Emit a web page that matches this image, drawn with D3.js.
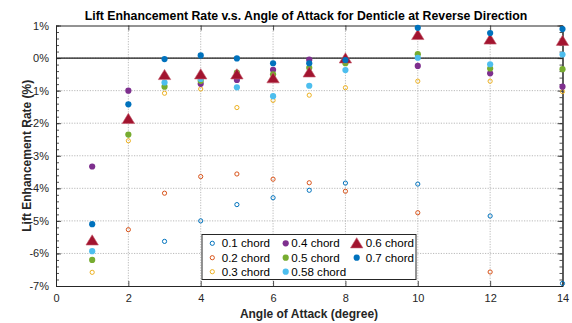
<!DOCTYPE html>
<html>
<head>
<meta charset="utf-8">
<script src="https://cdn.jsdelivr.net/npm/d3@7/dist/d3.min.js"></script>
<style>
  html, body { margin: 0; padding: 0; background: #fff; }
  svg { display: block; font-family: "Liberation Sans", Arial, Helvetica, sans-serif; }
</style>
</head>
<body>
<svg id="chart" width="572" height="323"></svg>
<script>
// Angle of attack (degree) at which lift was measured
const angles = [1, 2, 3, 4, 5, 6, 7, 8, 10, 12, 14];

// Lift enhancement rate (%) per chord position; null = not measured / off scale
const chord01  = [null, null, -5.63, -5.00, -4.50, -4.29, -4.06, -3.84, -3.87, -4.85, -6.92];
const chord02  = [null, -5.27, -4.15, -3.64, -3.56, -3.72, -3.83, -4.09, -4.75, -6.57, null];
const chord03  = [-6.58, -2.54, -1.08, -0.95, -1.52, -1.30, -1.14, -0.91, -0.71, -0.71, -1.03];
const chord04  = [-3.33, -1.00, -0.55, -0.79, -0.67, -0.36, -0.05, -0.05, -0.24, -0.47, -0.88];
const chord05  = [-6.20, -2.35, -0.88, -0.70, -0.45, -0.50, -0.30, -0.16, 0.12, -0.32, -0.34];
const chord058 = [-5.93, -1.90, -0.75, -0.64, -0.90, -1.17, -0.85, -0.37, 0.01, -0.19, 0.11];
const chord06  = [-5.60, -1.87, -0.52, -0.50, -0.50, -0.62, -0.44, -0.01, 0.71, 0.57, 0.53];
const chord07  = [-5.10, -1.42, -0.03, 0.08, -0.01, -0.16, -0.16, -0.06, 0.93, 0.77, 0.89];

const seriesNames = ["0.1 chord", "0.2 chord", "0.3 chord", "0.4 chord", "0.5 chord", "0.58 chord", "0.6 chord", "0.7 chord"];
const xTicks = [0, 2, 4, 6, 8, 10, 12, 14];
const yTicks = [1, 0, -1, -2, -3, -4, -5, -6, -7];
const yTickLabels = ["1%", "0%", "-1%", "-2%", "-3%", "-4%", "-5%", "-6%", "-7%"];

const title = "Lift Enhancement Rate v.s. Angle of Attack for Denticle at Reverse Direction";
const xLabel = "Angle of Attack (degree)";
const yLabel = "Lift Enhancement Rate (%)";

// marker styles for each series (drawn in this order)
const styles = [
  { values: chord01,  color: "#0072BD", kind: "open" },
  { values: chord02,  color: "#D95319", kind: "open" },
  { values: chord03,  color: "#EDB120", kind: "open" },
  { values: chord04,  color: "#7E2F8E", kind: "dot" },
  { values: chord05,  color: "#77AC30", kind: "dot" },
  { values: chord058, color: "#4DBEEE", kind: "dot" },
  { values: chord06,  color: "#A2142F", kind: "tri" },
  { values: chord07,  color: "#0072BD", kind: "dot" }
];

const svg = d3.select("#chart");
const plotL = 56, plotR = 562.5, plotT = 25.5, plotB = 286;

const x = d3.scaleLinear().domain([0, 14]).range([plotL, plotR]);
const y = d3.scaleLinear().domain([-7, 1]).range([plotB, plotT]);

// dotted grid
const grid = svg.append("g").attr("stroke", "#a8a8a8").attr("stroke-width", 0.8).attr("stroke-dasharray", "1.2,1.4");
grid.selectAll("line.gx").data(xTicks.slice(1, -1)).join("line")
  .attr("x1", d => x(d)).attr("x2", d => x(d)).attr("y1", plotT).attr("y2", plotB);
grid.selectAll("line.gy").data(yTicks.slice(1, -1)).join("line")
  .attr("y1", d => y(d)).attr("y2", d => y(d)).attr("x1", plotL).attr("x2", plotR);

// zero reference line
svg.append("line").attr("x1", plotL).attr("x2", plotR).attr("y1", y(0)).attr("y2", y(0))
  .attr("stroke", "#1a1a1a").attr("stroke-width", 1.3);

// axes (ticks pointing inward on all four sides)
const minorY = d3.range(-7, 1.001, 0.2).map(v => +v.toFixed(1));
const axB = svg.append("g").attr("transform", `translate(0,${plotB})`)
  .call(d3.axisBottom(x).tickValues(xTicks).tickSizeInner(-5).tickSizeOuter(0).tickPadding(8).tickFormat(d3.format("d")));
const axT = svg.append("g").attr("transform", `translate(0,${plotT})`)
  .call(d3.axisTop(x).tickValues(xTicks).tickSizeInner(-5).tickSizeOuter(0).tickFormat(""));
const axL = svg.append("g").attr("transform", `translate(${plotL},0)`)
  .call(d3.axisLeft(y).tickValues(yTicks).tickSizeInner(-5).tickSizeOuter(0).tickPadding(7)
    .tickFormat((d, i) => yTickLabels[i]));
const axR = svg.append("g").attr("transform", `translate(${plotR},0)`)
  .call(d3.axisRight(y).tickValues(yTicks).tickSizeInner(-5).tickSizeOuter(0).tickFormat(""));
const axLm = svg.append("g").attr("transform", `translate(${plotL},0)`)
  .call(d3.axisLeft(y).tickValues(minorY).tickSizeInner(-3).tickSizeOuter(0).tickFormat(""));
const axRm = svg.append("g").attr("transform", `translate(${plotR},0)`)
  .call(d3.axisRight(y).tickValues(minorY).tickSizeInner(-3).tickSizeOuter(0).tickFormat(""));

[axB, axT, axL, axR, axLm, axRm].forEach(a => {
  a.select(".domain").attr("stroke", "#262626").attr("stroke-width", 1);
  a.selectAll(".tick line").attr("stroke", "#262626").attr("stroke-width", 0.8);
  a.selectAll("text").attr("font-size", 11).attr("fill", "#262626")
    .attr("font-family", "Liberation Sans, Arial, sans-serif");
});
axB.selectAll("text").attr("dy", "0.71em");

// markers
const triPath = "M0,-5.6L6.2,4.6L-6.2,4.6Z";
function drawMarker(g, kind, color, px, py) {
  if (kind === "open") {
    g.append("circle").attr("cx", px).attr("cy", py).attr("r", 2.1)
      .attr("fill", "none").attr("stroke", color).attr("stroke-width", 1);
  } else if (kind === "dot") {
    g.append("circle").attr("cx", px).attr("cy", py).attr("r", 3.1).attr("fill", color);
  } else {
    g.append("path").attr("d", triPath).attr("transform", `translate(${px},${py})`)
      .attr("fill", color).attr("stroke", "#c45a6c").attr("stroke-width", 0.6);
  }
}

const marks = svg.append("g");
styles.forEach(s => {
  const g = marks.append("g");
  s.values.forEach((v, i) => {
    if (v === null) return;
    drawMarker(g, s.kind, s.color, x(angles[i]), y(v));
  });
});

// legend
const lg = svg.append("g");
lg.append("rect").attr("x", 202).attr("y", 234.5).attr("width", 214).attr("height", 45)
  .attr("fill", "#fff").attr("stroke", "#262626").attr("stroke-width", 1);
const colX = [212.3, 285.7, 356.7];
const rowY = [243.3, 257.7, 271.7];
const textOff = [9.4, 5.6, 9.0];
seriesNames.forEach((name, i) => {
  const c = Math.floor(i / 3), r = i % 3;
  const s = styles[i];
  drawMarker(lg, s.kind, s.color, colX[c], rowY[r]);
  lg.append("text").attr("x", colX[c] + textOff[c]).attr("y", rowY[r]).attr("dy", "0.36em")
    .attr("font-size", 11.6).attr("fill", "#000").text(name);
});

// titles
svg.append("text").attr("x", 306).attr("y", 20).attr("text-anchor", "middle")
  .attr("font-size", 12.3).attr("font-weight", "bold").attr("fill", "#000").text(title);
svg.append("text").attr("x", 309).attr("y", 318).attr("text-anchor", "middle")
  .attr("font-size", 12).attr("font-weight", "bold").attr("fill", "#262626").text(xLabel);
svg.append("text").attr("transform", `translate(31,${(plotT + plotB) / 2}) rotate(-90)`)
  .attr("text-anchor", "middle").attr("font-size", 12).attr("font-weight", "bold")
  .attr("fill", "#262626").text(yLabel);
</script>
</body>
</html>
